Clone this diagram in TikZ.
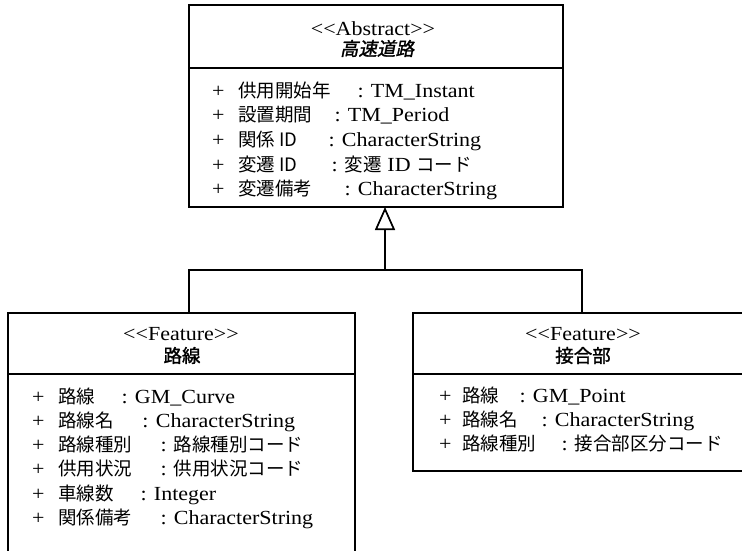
\documentclass[tikz,border=0pt]{standalone}
\usepackage{fontspec}
\setmainfont[FakeStretch=1.1]{Liberation Serif}
\newfontfamily\jp[Scale=0.925]{Noto Sans CJK JP}
\newfontfamily\jpb[Scale=0.925,FakeBold=1.5]{Noto Sans CJK JP}
\newfontfamily\jpbi[Scale=0.925,FakeBold=1.5,FakeSlant=0.2]{Noto Sans CJK JP}
\usetikzlibrary{arrows.meta}
\newcommand\umlrow[4]{\makebox[#1pt][l]{+}\makebox[#2pt][l]{\jp #3}: #4}
\begin{document}
\begin{tikzpicture}[x=1pt,y=-1pt,
  every node/.style={font=\fontsize{20pt}{24pt}\selectfont, inner sep=0pt, outer sep=0pt},
  box/.style={draw, line width=1.7pt, rectangle},
  row/.style={anchor=base west},
  head/.style={anchor=base},
  conn/.style={line width=1.7pt}]
\useasboundingbox (0,0) rectangle (742,550);
\clip (0,0) rectangle (742,550);
% boxes
\node[box, minimum width=374pt, minimum height=202pt] (abs) at (376,106) {};
\node[box, minimum width=347pt, minimum height=287pt] (lb) at (181.5,456.5) {};
\node[box, minimum width=340pt, minimum height=158pt] (rb) at (583,392) {};
% separators
\draw[line width=1.7pt] (abs.west |- 0,68) -- (abs.east |- 0,68);
\draw[line width=1.7pt] (lb.west |- 0,374) -- (lb.east |- 0,374);
\draw[line width=1.7pt] (rb.west |- 0,374) -- (rb.east |- 0,374);
% headers
\node[head] (absst) at (373,35) {<{}<Abstract>{}>};
\node[head] (absname) at (377,55.5) {\jpbi 高速道路};
\node[head] (lbst) at (181,340) {<{}<Feature>{}>};
\node[head] (lbname) at (182,362.5) {\jpb 路線};
\node[head] (rbst) at (583,340) {<{}<Feature>{}>};
\node[head] (rbname) at (583,362.5) {\jpb 接合部};
% top attributes
\node[row] (a1) at (212,97.5) {\umlrow{26}{119.5}{供用開始年}{TM\_Instant}};
\node[row] (a2) at (212,121.5) {\umlrow{26}{96.5}{設置期間}{TM\_Period}};
\node[row] (a3) at (212,146.5) {\umlrow{26}{90.5}{関係 ID}{CharacterString}};
\node[row] (a4) at (212,171.5) {\umlrow{26}{93.5}{変遷 ID}{{\jp 変遷} ID {\jp コード}}};
\node[row] (a5) at (212,195.5) {\umlrow{26}{106.5}{変遷備考}{CharacterString}};
% left attributes
\node[row] (l1) at (32,403.5) {\umlrow{26}{63.5}{路線}{GM\_Curve}};
\node[row] (l2) at (32,427.5) {\umlrow{26}{84.5}{路線名}{CharacterString}};
\node[row] (l3) at (32,451.5) {\umlrow{26}{102.5}{路線種別}{{\jp 路線種別コード}}};
\node[row] (l4) at (32,475.5) {\umlrow{26}{102.5}{供用状況}{{\jp 供用状況コード}}};
\node[row] (l5) at (32,500.5) {\umlrow{26}{82.5}{車線数}{Integer}};
\node[row] (l6) at (32,524.5) {\umlrow{26}{102.5}{関係備考}{CharacterString}};
% right attributes
\node[row] (r1) at (439,402.5) {\umlrow{23}{57.5}{路線}{GM\_Point}};
\node[row] (r2) at (439,426.5) {\umlrow{23}{79.5}{路線名}{CharacterString}};
\node[row] (r3) at (439,450.5) {\umlrow{23}{99.5}{路線種別}{{\jp 接合部区分コード}}};
% generalization
\coordinate (apex) at (385,207);
\coordinate (junc) at (385,270);
\coordinate (lcon) at (189,313);
\coordinate (rcon) at (582,313);
\draw[conn] (lcon) |- (junc) -| (rcon);
\draw[conn, -{Triangle[open, length=23pt, width=20pt]}] (junc) -- (apex);
\end{tikzpicture}
\end{document}
